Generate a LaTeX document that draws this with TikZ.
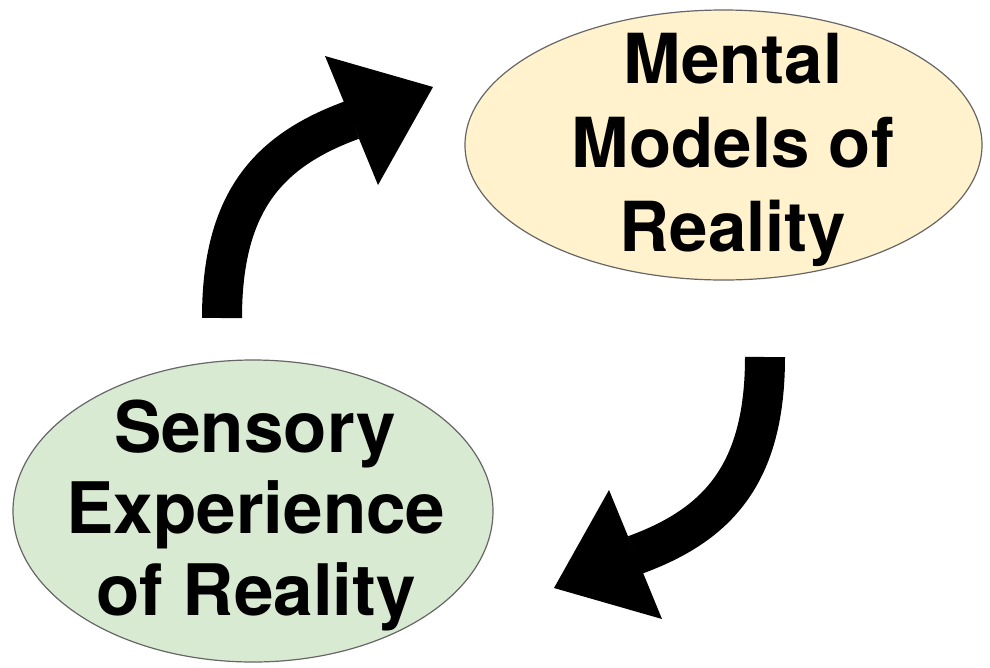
\documentclass[tikz,border=0pt]{standalone}
\usepackage{fontspec}
\setmainfont{TeX Gyre Heros}
\usetikzlibrary{shapes.geometric}
\definecolor{mentalfill}{HTML}{FFF2CC}
\definecolor{sensefill}{HTML}{D9EAD3}
\definecolor{edgegray}{HTML}{666666}
\begin{document}
\begin{tikzpicture}[x=1pt,y=-1pt,
  oval/.style={ellipse, draw=edgegray, line width=1.2pt, inner sep=0pt},
  word/.style={anchor=base, inner sep=0pt, font=\fontsize{69}{84}\selectfont\bfseries},
  bigword/.style={word, font=\fontsize{71}{84}\selectfont\bfseries},
  shaft/.style={line width=40pt, line cap=butt},
]
\useasboundingbox (0,0) rectangle (990,667);
% ellipses
\node[oval, fill=mentalfill, minimum width=517pt, minimum height=270pt] (mm) at (723.5,145) {};
\node[oval, fill=sensefill, minimum width=480pt, minimum height=302pt] (se) at (253,511) {};
% texts
\node[word] (m1) at (733,83) {Mental};
\node[word] (m2) at (733,167) {Models of};
\node[word] (m3) at (733,251) {Reality};
\node[bigword] (s1) at (255,452) {Sensory};
\node[bigword] (s2) at (256,533) {Experience};
\node[bigword] (s3) at (256,615) {of Reality};
% upper arrow
\coordinate (ua0) at (222,318);
\coordinate (ua1) at (352,120);
\coordinate (uh1) at (325,56);
\coordinate (uh2) at (433,87);
\coordinate (uh3) at (378,185);
\draw[shaft] (ua0) .. controls (222,200) and (270,150) .. (ua1);
\fill (uh1) -- (uh2) -- (uh3) -- cycle;
% lower arrow
\coordinate (la0) at (765,357);
\coordinate (la1) at (635,555);
\coordinate (lh1) at (662,619);
\coordinate (lh2) at (554,588);
\coordinate (lh3) at (609,490);
\draw[shaft] (la0) .. controls (765,475) and (717,525) .. (la1);
\fill (lh1) -- (lh2) -- (lh3) -- cycle;
\end{tikzpicture}
\end{document}
